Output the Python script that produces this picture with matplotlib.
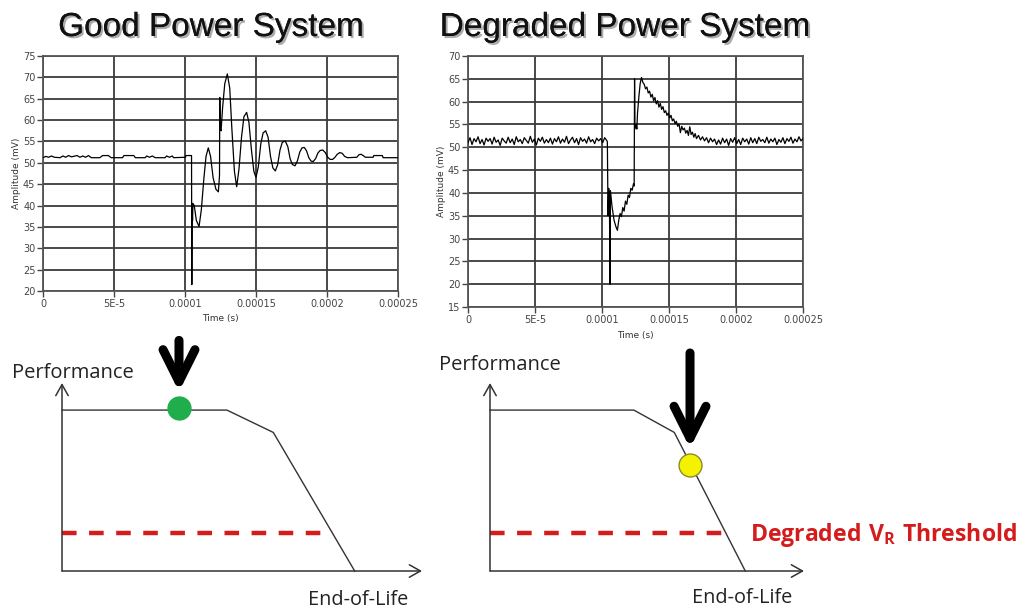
import numpy as np
import matplotlib
matplotlib.use("Agg")
import matplotlib.pyplot as plt
import matplotlib.patheffects as pe

plt.rcParams['font.family'] = ['DejaVu Sans']
plt.rcParams['lines.scale_dashes'] = False
plt.rcParams['mathtext.fontset'] = 'custom'
plt.rcParams['mathtext.rm'] = 'Open Sans'
plt.rcParams['mathtext.bf'] = 'Open Sans:bold'

# ---- oscilloscope traces (time in microseconds, amplitude in mV) ----
good_pre = [(0, 51.2), (2, 51.5), (4, 51.3), (6, 51.6), (8, 51.3), (12, 51.2), (14, 51.6),
            (16, 51.3), (18, 51.7), (20, 51.4), (24, 51.7), (26, 51.3), (28, 51.6), (30, 51.3),
            (32, 51.7), (34, 51.2), (40, 51.2), (42, 51.7), (46, 51.7), (48, 51.2), (56, 51.2),
            (57, 51.7), (64, 51.7), (65, 51.2), (72, 51.2), (73, 51.6), (75, 51.3), (77, 51.6),
            (79, 51.2), (86, 51.2), (87, 51.6), (89, 51.3), (91, 51.6), (92, 51.2), (100.4, 51.3),
            (100.5, 51.7), (104.6, 51.7)]
good_ring = [(104.8, 21.5), (105.0, 40.5), (105.3, 36.5), (105.6, 40.5), (106.5, 40.0),
             (108.0, 36.5), (109.9, 35.1), (111.5, 39.0), (113.2, 46.0), (114.8, 51.5),
             (116.4, 53.5), (118.0, 51.5), (119.8, 46.5), (121.8, 43.8), (123.5, 43.2),
             (124.3, 47.0), (124.5, 65.3), (124.8, 58.0), (125.4, 57.5), (126.5, 63.0),
             (128.0, 68.5), (129.8, 70.8), (131.5, 67.5), (133.0, 58.0), (134.8, 48.0),
             (136.4, 44.4), (138.0, 48.5), (139.8, 56.0), (141.5, 60.8), (143.4, 61.8),
             (145.0, 59.5), (146.8, 53.0), (148.5, 48.0), (150.0, 46.6), (151.6, 49.0),
             (153.4, 54.5), (155.0, 57.0), (156.8, 57.5), (158.5, 56.0), (160.2, 51.5),
             (161.9, 48.8), (163.6, 48.1), (165.2, 49.5), (166.9, 53.0), (168.5, 54.8),
             (170.6, 55.1), (172.4, 53.8), (174.0, 51.0), (175.6, 49.6), (177.5, 49.3),
             (179.2, 50.5), (180.8, 52.5), (182.4, 53.5), (184.0, 53.6), (185.6, 52.8),
             (187.2, 51.2), (188.8, 50.4), (190.3, 50.3), (192.0, 51.0), (193.6, 52.3),
             (195.2, 52.9), (197.0, 53.0), (198.8, 52.4), (200.5, 51.3), (202.2, 50.8),
             (204.0, 50.8), (205.6, 51.3), (207.2, 52.0), (209.0, 52.4), (210.8, 52.2),
             (212.4, 51.5)]
good_post = [(214.5, 51.2), (221.0, 51.3), (222.5, 51.9), (224.0, 52.0), (225.5, 51.7),
             (227.0, 51.3), (232.5, 51.3), (233.0, 51.7), (239.0, 51.7), (239.5, 51.2),
             (250.0, 51.2)]

deg_pre = [(0, 51.0), (1.5, 52.1), (3, 50.6), (4.5, 51.9), (6, 51.2), (7.5, 52.3), (9, 50.8),
           (10.5, 51.7), (12, 50.5), (13.5, 52.0), (15, 51.3), (16.5, 51.9), (18, 50.7),
           (19.5, 52.2), (21, 51.1), (22.5, 51.6), (24, 50.4), (25.5, 52.0), (27, 51.4),
           (28.5, 50.9), (30, 52.2), (31.5, 51.0), (33, 51.8), (34.5, 50.6), (36, 52.3),
           (37.5, 51.2), (39, 51.7), (40.5, 50.8), (42, 52.1), (43.5, 51.5), (45, 50.9),
           (46.5, 52.4), (48, 51.1), (49.5, 51.8), (51, 50.5), (52.5, 52.0), (54, 51.3),
           (55.5, 52.2), (57, 50.9), (58.5, 51.7), (60, 51.0), (61.5, 52.0), (63, 50.7),
           (64.5, 51.9), (66, 51.2), (67.5, 52.3), (69, 50.9), (70.5, 51.8), (72, 51.1),
           (73.5, 52.4), (75, 50.8), (76.5, 51.6), (78, 52.2), (79.5, 51.0), (81, 51.9),
           (82.5, 50.6), (84, 52.1), (85.5, 51.3), (87, 51.8), (88.5, 50.9), (90, 52.3),
           (91.5, 51.2), (93, 51.7), (94.5, 50.8), (96, 52.0), (97.5, 51.4), (99, 51.9),
           (100.5, 51.0), (102, 52.1), (103.5, 51.5), (104.0, 51.2)]
deg_event = [(104.5, 35.0), (105.0, 41.0), (105.5, 39.5), (106.0, 20.0), (106.3, 40.5),
             (107.5, 37.0), (109.0, 34.0), (110.5, 32.5), (111.5, 31.8), (112.5, 34.0),
             (113.5, 35.5), (114.5, 34.8), (115.5, 36.8), (116.5, 36.0), (117.5, 38.2),
             (118.5, 37.5), (119.5, 39.5), (120.5, 39.0), (121.5, 41.0), (122.5, 40.6),
             (123.5, 42.0), (124.0, 41.5), (124.3, 65.0), (124.6, 54.0), (125.5, 55.0),
             (126.0, 54.0), (126.5, 57.5), (127.5, 61.0), (128.5, 64.0), (129.5, 65.3),
             (130.5, 64.2)]
deg_decay = [(131.5, 63.8), (132.5, 62.8), (133.5, 63.2), (134.5, 61.9), (135.5, 62.3),
             (136.5, 61.0), (137.5, 61.6), (138.5, 60.2), (139.5, 60.9), (140.5, 59.5),
             (141.5, 60.2), (142.5, 58.8), (143.5, 59.6), (144.5, 58.3), (145.5, 58.9),
             (146.5, 57.6), (147.5, 58.0), (148.5, 57.0), (149.5, 57.5), (150.5, 56.4),
             (151.5, 57.0), (152.5, 55.8), (153.5, 56.2), (154.5, 55.2), (155.5, 55.7),
             (156.5, 54.6), (157.5, 55.1), (158.5, 53.2), (159.5, 54.6), (160.5, 53.8),
             (161.5, 54.2), (162.5, 53.1), (163.5, 53.7), (164.5, 52.6), (165.5, 54.5),
             (166.5, 52.8), (167.5, 53.3), (168.5, 52.2), (169.5, 53.0), (170.5, 51.9),
             (172, 52.6), (173.5, 51.6), (175, 52.3), (176.5, 51.4), (178, 52.1),
             (179.5, 51.0), (181, 52.0), (182.5, 51.2), (184, 51.8), (185.5, 50.6)]
deg_post = [(187, 51.6), (188.5, 50.7), (190, 52.0), (191.5, 51.0), (193, 51.8), (194.5, 50.4),
            (196, 51.9), (197.5, 51.1), (199, 52.1), (200.5, 50.8), (202, 51.7), (203.5, 50.6),
            (205, 52.0), (206.5, 51.2), (208, 51.8), (209.5, 50.7), (211, 52.1), (212.5, 51.0),
            (214, 51.9), (215.5, 50.8), (217, 52.2), (218.5, 51.3), (220, 51.7), (221.5, 51.0),
            (223, 52.2), (224.5, 50.9), (226, 51.8), (227.5, 51.2), (229, 52.0), (230.5, 50.6),
            (232, 51.7), (233.5, 51.1), (235, 52.1), (236.5, 50.8), (238, 51.9), (239.5, 51.3),
            (241, 52.2), (242.5, 50.9), (244, 51.8), (245.5, 51.2), (247, 52.3), (248.5, 51.4),
            (250, 51.9)]

time_ticks = [0, 0.00005, 0.0001, 0.00015, 0.0002, 0.00025]
time_tick_labels = ['0', '5E-5', '0.0001', '0.00015', '0.0002', '0.00025']
good_ylim = (20, 75)
deg_ylim = (15, 70)

# ---- performance vs life schematic (fractions of axis length) ----
life = [0, 0.458, 0.587, 0.813]
performance = [0.856, 0.856, 0.737, 0]
threshold = 0.202
threshold_end = 0.754
good_state = (0.325, 0.865)
degraded_state = (0.637, 0.564)

W, H = 1028, 614
fig = plt.figure(figsize=(W / 100, H / 100), dpi=100)


def box(l, t, r, b):
    return [l / W, 1 - b / H, (r - l) / W, (b - t) / H]


def scope(ax, segs, ylim):
    pts = [p for s in segs for p in s]
    t = np.array([p[0] for p in pts]) * 1e-6
    v = np.array([p[1] for p in pts])
    ax.plot(t, v, color='black', lw=0.9, zorder=3)
    ax.set_xlim(0, 0.00025)
    ax.set_ylim(*ylim)
    ax.set_xticks(time_ticks)
    ax.set_xticklabels(time_tick_labels)
    ax.set_yticks(np.arange(ylim[0], ylim[1] + 1, 5))
    ax.grid(True, color='#3a3a3a', lw=1.3)
    ax.tick_params(labelsize=7, colors='#444444', length=4, width=1, pad=1.5)
    for s in ax.spines.values():
        s.set_color('#555555')
        s.set_linewidth(1.3)
    ax.set_xlabel('Time (s)', fontsize=6.5, color='#333333')
    ax.set_ylabel('Amplitude (mV)', fontsize=6.5, color='#333333')


ax1 = fig.add_axes(box(43, 56, 398, 291))
scope(ax1, [good_pre, good_ring, good_post], good_ylim)
ax1.xaxis.set_label_coords(0.5, -0.1)
ax1.yaxis.set_label_coords(-0.062, 0.5)

ax2 = fig.add_axes(box(468, 56, 803, 307))
scope(ax2, [deg_pre, deg_event, deg_decay, deg_post], deg_ylim)
ax2.xaxis.set_label_coords(0.5, -0.097)
ax2.yaxis.set_label_coords(-0.066, 0.5)

shadow = [pe.withSimplePatchShadow(offset=(1.5, -1.5), shadow_rgbFace='#888888', alpha=0.7), pe.Normal()]
fig.text(211 / W, 1 - 36 / H, 'Good Power System', ha='center', va='baseline',
         fontsize=24, family='Liberation Sans', color='#111111', path_effects=shadow)
fig.text(625 / W, 1 - 36 / H, 'Degraded Power System', ha='center', va='baseline',
         fontsize=24, family='Liberation Sans', color='#111111', path_effects=shadow)


def schematic(ax, state, state_color, edge, arrow_len, perf_xy, eol_xy):
    ax.set_xlim(0, 1)
    ax.set_ylim(0, 1)
    ax.axis('off')
    ax.annotate('', xy=(1, 0), xytext=(0, 0), xycoords='axes fraction',
                arrowprops=dict(arrowstyle='->,head_length=0.8,head_width=0.45', lw=1.1,
                                color='#333333', shrinkA=0, shrinkB=0))
    ax.annotate('', xy=(0, 1), xytext=(0, 0), xycoords='axes fraction',
                arrowprops=dict(arrowstyle='->,head_length=0.8,head_width=0.45', lw=1.1,
                                color='#333333', shrinkA=0, shrinkB=0))
    ax.plot(life, performance, color='#333333', lw=1.0, clip_on=False)
    ax.plot([0, threshold_end], [threshold, threshold], color='#d41c1c', lw=3.2,
            dashes=(10.5, 9), clip_on=False)
    ax.plot(*state, 'o', ms=16.5, mfc=state_color, mec=edge, mew=1, clip_on=False, zorder=5)
    ax.annotate('', xy=state, xytext=(0, arrow_len), textcoords='offset pixels',
                arrowprops=dict(arrowstyle='->,head_length=2.3,head_width=1.15', lw=6.5,
                                color='black', shrinkA=0, shrinkB=12, mutation_scale=10))
    ax.text(*perf_xy, 'Performance', transform=ax.transAxes, fontsize=14.5, family='Open Sans',
            ha='left', va='center', color='#222222')
    ax.text(*eol_xy, 'End-of-Life', transform=ax.transAxes, fontsize=14.3, family='Open Sans',
            ha='center', va='center', color='#222222')


ax3 = fig.add_axes(box(62, 383, 422, 571))
schematic(ax3, good_state, '#1fae4b', '#1fae4b', 68, (-0.139, 1.053), (0.822, -0.154))

ax4 = fig.add_axes(box(490, 383, 804, 571))
schematic(ax4, degraded_state, '#f5f200', '#8a8a30', 112, (-0.162, 1.096), (0.803, -0.144))
ax4.text(0.828, 0.191, r'$\mathbf{Degraded\ V_R\ Threshold}$', transform=ax4.transAxes,
         fontsize=16.6, color='#d41c1c', ha='left', va='center')

fig.savefig('out.png', dpi=100)
